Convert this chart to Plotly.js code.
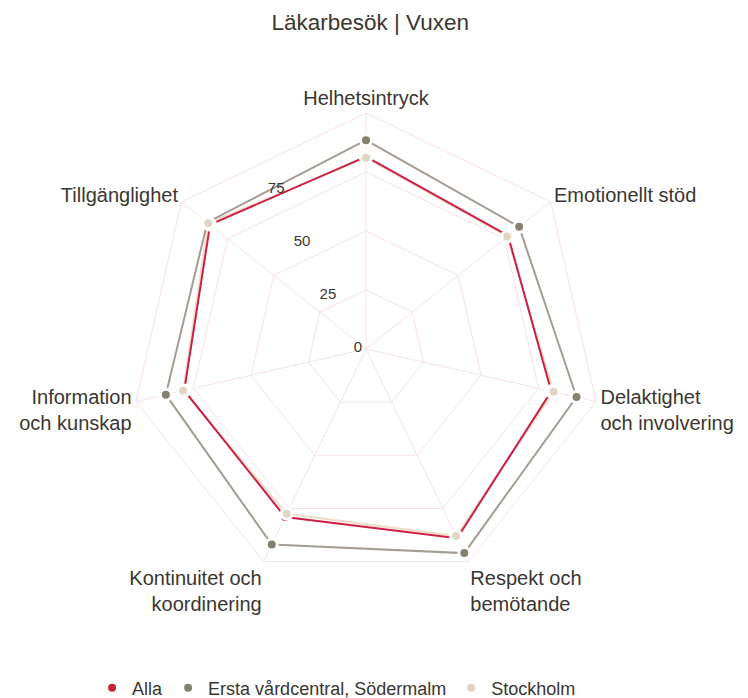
<!DOCTYPE html>
<html>
<head>
<meta charset="utf-8">
<script src="https://cdn.plot.ly/plotly-3.0.1.min.js"></script>
<style>html,body{margin:0;padding:0;background:#fff;}#chart{width:748px;height:698px;}</style>
</head>
<body>
<div id="chart"></div>
<script>
// ---- data ----
const categories = ["Helhetsintryck", "Emotionellt stöd", "Delaktighet<br>och involvering", "Respekt och<br>bemötande", "Kontinuitet och<br>koordinering", "Information<br>och kunskap", "Tillgänglighet"];
const seriesNames = ["Alla", "Ersta vårdcentral, Södermalm", "Stockholm"];
const alla = [81.5, 77, 80.5, 89, 79, 79, 84.5];
const ersta = [88.5, 83, 91.5, 96, 92, 87, 86];
const stockholm = [81, 76.5, 81.5, 88, 77.5, 79.5, 85.5];
const radialTicks = [0, 25, 50, 75];
const radialTickText = ["0", "25", "50", "75"];

// ---- styles ----
const textColor = "#3b3631";
const gridColor = "#f8e1e6";
const lineColors = ["#cc1f44", "#a59c92", "#f0dcc8"];
const markerColors = ["#c8203f", "#86806f", "#e3d5c5"];
const values = [alla, ersta, stockholm];

function closed(arr) { return arr.concat([arr[0]]); }

const traces = [];
[2, 1, 0].forEach(i => {
  traces.push({
    type: "scatterpolar",
    mode: "lines",
    r: closed(values[i]),
    theta: closed(categories),
    line: {color: lineColors[i], width: 2},
    legendgroup: "g" + i,
    showlegend: false,
    hoverinfo: "skip"
  });
});
[0, 1, 2].forEach(i => {
  traces.push({
    type: "scatterpolar",
    mode: "markers",
    name: seriesNames[i],
    r: values[i],
    theta: categories,
    marker: {color: markerColors[i], size: 11, line: {color: "#ffffff", width: 3}},
    legendgroup: "g" + i,
    showlegend: true
  });
});
// empty trace that only carries the radial tick-label overlay axis
traces.push({type: "scatterpolar", subplot: "polar2", mode: "markers", r: [], theta: [], showlegend: false, hoverinfo: "skip"});

const polarDomain = {x: [130 / 748, 602 / 748], y: [113 / 698, 585 / 698]};
const labelDomain = {x: [136 / 748, 608 / 748], y: [122 / 698, 594 / 698]};

const layout = {
  width: 748,
  height: 698,
  margin: {l: 0, r: 0, t: 0, b: 0, autoexpand: false},
  paper_bgcolor: "#ffffff",
  font: {family: "Liberation Sans, Arial, sans-serif", color: textColor},
  title: {
    text: "Läkarbesök | Vuxen",
    font: {size: 22.5, color: textColor},
    x: 0.495, xanchor: "center",
    y: 1 - 22 / 698, yanchor: "middle",
    xref: "paper", yref: "container"
  },
  polar: {
    domain: polarDomain,
    gridshape: "linear",
    bgcolor: "#ffffff",
    radialaxis: {
      range: [0, 100],
      tickvals: radialTicks,
      showticklabels: false,
      showline: false,
      ticks: "",
      gridcolor: gridColor,
      gridwidth: 1
    },
    angularaxis: {
      direction: "clockwise",
      rotation: 90,
      gridcolor: gridColor,
      linecolor: gridColor,
      linewidth: 1,
      showline: true,
      ticks: "",
      tickfont: {size: 20, color: textColor}
    }
  },
  polar2: {
    domain: labelDomain,
    bgcolor: "rgba(0,0,0,0)",
    radialaxis: {
      range: [0, 100],
      tickvals: radialTicks,
      ticktext: radialTickText,
      showgrid: false,
      showline: false,
      ticks: "",
      angle: 116,
      tickangle: 116,
      side: "counterclockwise",
      tickfont: {size: 15, color: textColor}
    },
    angularaxis: {visible: false, showgrid: false, showline: false, showticklabels: false}
  },
  showlegend: true,
  legend: {
    orientation: "h",
    x: 0.45, xanchor: "center",
    y: 1 - 688 / 698, yanchor: "middle",
    font: {size: 18, color: textColor},
    bgcolor: "rgba(0,0,0,0)"
  }
};

Plotly.newPlot("chart", traces, layout, {displayModeBar: false, staticPlot: true});
</script>
</body>
</html>
